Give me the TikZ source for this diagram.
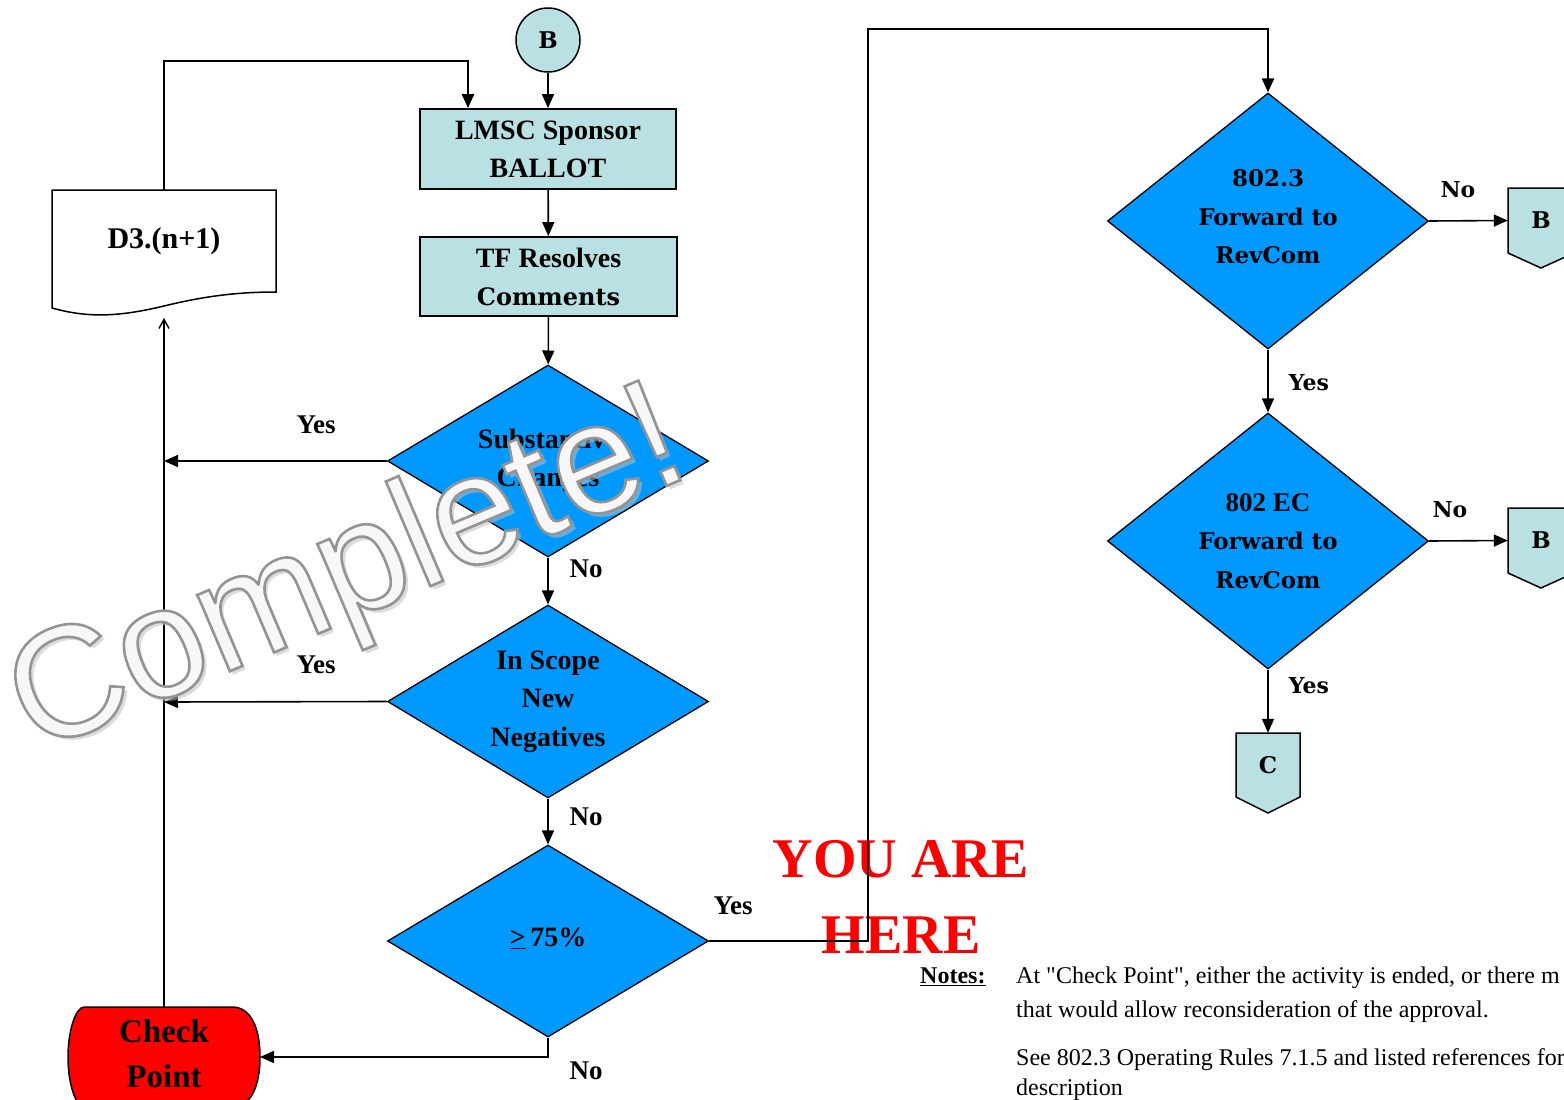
\documentclass[tikz,border=0pt]{standalone}
\usepackage{fontspec}
\setmainfont{Liberation Serif}
\newfontfamily\bkfont{DejaVu Serif}
\newfontfamily\wmfont{Liberation Sans}
\newfontfamily\notefont{Liberation Serif}
\usetikzlibrary{shapes.geometric,arrows.meta}
\definecolor{tealbox}{RGB}{185,224,227}
\definecolor{decblue}{RGB}{0,153,255}
\definecolor{cpred}{RGB}{255,0,0}
\newcommand{\fsz}[2]{\fontsize{#1}{#2}\selectfont}
\newcommand{\outlinetext}[1]{\special{pdf:literal direct 2 Tr 2.6 w 0.58 G}#1\special{pdf:literal direct 0 Tr}}
\begin{document}
\begin{tikzpicture}[x=1pt,y=-1pt,
  procbox/.style={draw, line width=1.8pt, fill=tealbox, minimum width=256pt, minimum height=80pt, inner sep=0pt, align=center, font=\bfseries\fsz{28}{38}},
  dec/.style={diamond, draw, line width=1.3pt, fill=decblue, inner sep=0pt, align=center, minimum width=321pt, font=\bfseries\fsz{28}{38.5}},
  arr/.style={line width=1.6pt, -{Triangle[length=14pt,width=12pt]}},
  thickarr/.style={line width=2.6pt, -{Triangle[length=14pt,width=12pt]}},
  lbl/.style={font=\bfseries\fsz{27}{32}, inner sep=0pt},
  rlbl/.style={font=\bkfont\bfseries\fsz{22}{28}, inner sep=0pt},
  shapeline/.style={draw, line width=1.5pt},
  wmtext/.style={rotate=23, anchor=base west, inner sep=0pt, font=\wmfont\fsz{157}{160}},
  notetext/.style={anchor=base west, inner sep=0pt, font=\notefont\fsz{24}{30}},
  here/.style={anchor=base, inner sep=0pt, text=cpred, font=\bfseries\fsz{56}{60}}
]
\useasboundingbox (0,0) rectangle (1564,1100);
\clip (0,0) rectangle (1564,1100);

% YOU ARE HERE (under the connectors)
\node[here] (here1) at (901,877) {YOU ARE};
\node[here] (here2) at (901,953) {HERE};

% B connector circle
\node[circle, draw, line width=1.5pt, fill=tealbox, minimum size=64pt, inner sep=0pt, font=\bkfont\bfseries\fsz{23}{28}] (bcirc) at (548,40) {B};

% process boxes
\node[procbox] (lmsc) at (548,149) {LMSC Sponsor\\BALLOT};
\node[procbox, minimum width=257pt, minimum height=79pt] (tf) at (548.5,276.5) {TF Resolves\\{\bkfont\bfseries\fsz{24}{38}Comments}};

% decisions
\node[dec, minimum height=192pt, aspect=1.67] (d1) at (548,461) {Substantive\\Changes\rule[-6pt]{0pt}{1pt}};
\node[dec, minimum height=193pt, aspect=1.67] (d2) at (548,701.5) {In Scope\\New\\Negatives};
\node[dec, minimum height=192pt, aspect=1.67] (d3) at (548,941) {\underline{>}\,75\%\rule[-8pt]{0pt}{1pt}};
\node[dec, minimum height=256pt, aspect=1.254, font=\bkfont\bfseries\fsz{23}{38.5}] (d4) at (1268,221) {802.3\\Forward to\\RevCom\rule[-9pt]{0pt}{1pt}};
\node[dec, minimum height=256pt, aspect=1.254, font=\bkfont\bfseries\fsz{23}{38.5}] (d5) at (1268,541) {{\rmfamily\bfseries\fsz{27}{38.5}802 EC}\\Forward to\\RevCom};

% D3 document shape
\path[shapeline, fill=white] (52,190) -- (276,190) -- (276,292)
  .. controls (238,292) and (205,296) .. (164,306)
  .. controls (118,317) and (88,318) .. (52,308) -- cycle;
\node[minimum width=224pt, minimum height=102pt, inner sep=0pt, font=\bfseries\fsz{30}{34}] (d3doc) at (164,241) {D3.(n+1)};
\coordinate (d3b) at (164,318);

% Check Point shape
\path[shapeline, fill=cpred] (84,1007) -- (232,1007)
  .. controls (252,1007) and (260,1030) .. (260,1057)
  .. controls (260,1084) and (252,1107) .. (232,1107) -- (84,1107)
  .. controls (76,1107) and (68,1084) .. (68,1057)
  .. controls (68,1030) and (76,1007) .. (84,1007) -- cycle;
\node[minimum width=192pt, minimum height=100pt, inner sep=0pt, align=center, font=\bfseries\fsz{33}{45}] (cp) at (164,1054) {Check\\Point};
\coordinate (cpe) at (260,1057);

% off-page connectors (pentagons)
\path[shapeline, fill=tealbox] (1508,188) -- (1574,188) -- (1574,253) -- (1541,268) -- (1508,253) -- cycle;
\node[minimum width=66pt, minimum height=65pt, inner sep=0pt, font=\bkfont\bfseries\fsz{23}{28}] (b1) at (1541,220.5) {B};
\path[shapeline, fill=tealbox] (1508,508) -- (1574,508) -- (1574,573) -- (1541,588) -- (1508,573) -- cycle;
\node[minimum width=66pt, minimum height=65pt, inner sep=0pt, font=\bkfont\bfseries\fsz{23}{28}] (b2) at (1541,540.5) {B};
\path[shapeline, fill=tealbox] (1236,733) -- (1300,733) -- (1300,797) -- (1268,813) -- (1236,797) -- cycle;
\node[minimum width=64pt, minimum height=64pt, inner sep=0pt, font=\bkfont\bfseries\fsz{23}{28}] (cbox) at (1268,765) {C};

% junction coordinates
\coordinate (j1) at (164,461);
\coordinate (j2) at (164,702);
\coordinate (yturn) at (868,29);
\coordinate (lmscin) at ([xshift=-80pt]lmsc.north);

% connectors
\draw[arr] (bcirc) -- (lmsc);
\draw[arr] (lmsc) -- (tf);
\draw[arr] (tf) -- (d1);
\draw[arr] (d1) -- (d2);
\draw[arr] (d2) -- (d3);
\draw[arr] (d1.west) -- (j1);
\draw[arr] (d2.west) -- (j2);
\draw[arr] (d3.south) |- (cpe);
\draw[line width=1.4pt, -{Straight Barb[length=9pt,width=10pt]}] (cp.north |- 0,1007) -- (d3b);
\draw[thickarr] (d3doc.north) |- ([yshift=47pt]lmscin) -- (lmscin);
\draw[thickarr] (d3.east) -| (yturn) -| (d4.north);
\draw[arr] (d4.east) -- (b1.west);
\draw[arr] (d4.south) -- (d5.north);
\draw[arr] (d5.east) -- (b2.west);
\draw[arr] (d5.south) -- (cbox.north);

% labels
\node[lbl] (l1) at (316,425) {Yes};
\node[lbl] (l2) at (586,569) {No};
\node[lbl] (l3) at (316,665) {Yes};
\node[lbl] (l4) at (586,817) {No};
\node[lbl] (l5) at (733,906) {Yes};
\node[lbl] (l6) at (586,1071) {No};
\node[rlbl] (l7) at (1458,190) {No};
\node[rlbl] (l8) at (1309,383) {Yes};
\node[rlbl] (l9) at (1450,510) {No};
\node[rlbl] (l10) at (1309,686) {Yes};

% notes
\node[notetext, font=\bfseries\fsz{24}{30}] (notes) at (920,983) {\underline{Notes:}};
\node[notetext] (n1) at (1016,983) {At "Check Point", either the activity is ended, or there m};
\node[notetext] (n2) at (1016,1017) {that would allow reconsideration of the approval.};
\node[notetext] (n3) at (1016,1065) {See 802.3 Operating Rules 7.1.5 and listed references for};
\node[notetext] (n4) at (1016,1095) {description};

% watermark
\coordinate (wm) at (35,754);
\node[wmtext, text=gray!50, opacity=0.55] (wmshadow) at ([shift={(4,4)}]wm) {Complete!};
\node[wmtext, text=gray!6] (wmark) at (wm) {\outlinetext{Complete!}};
\end{tikzpicture}
\end{document}
